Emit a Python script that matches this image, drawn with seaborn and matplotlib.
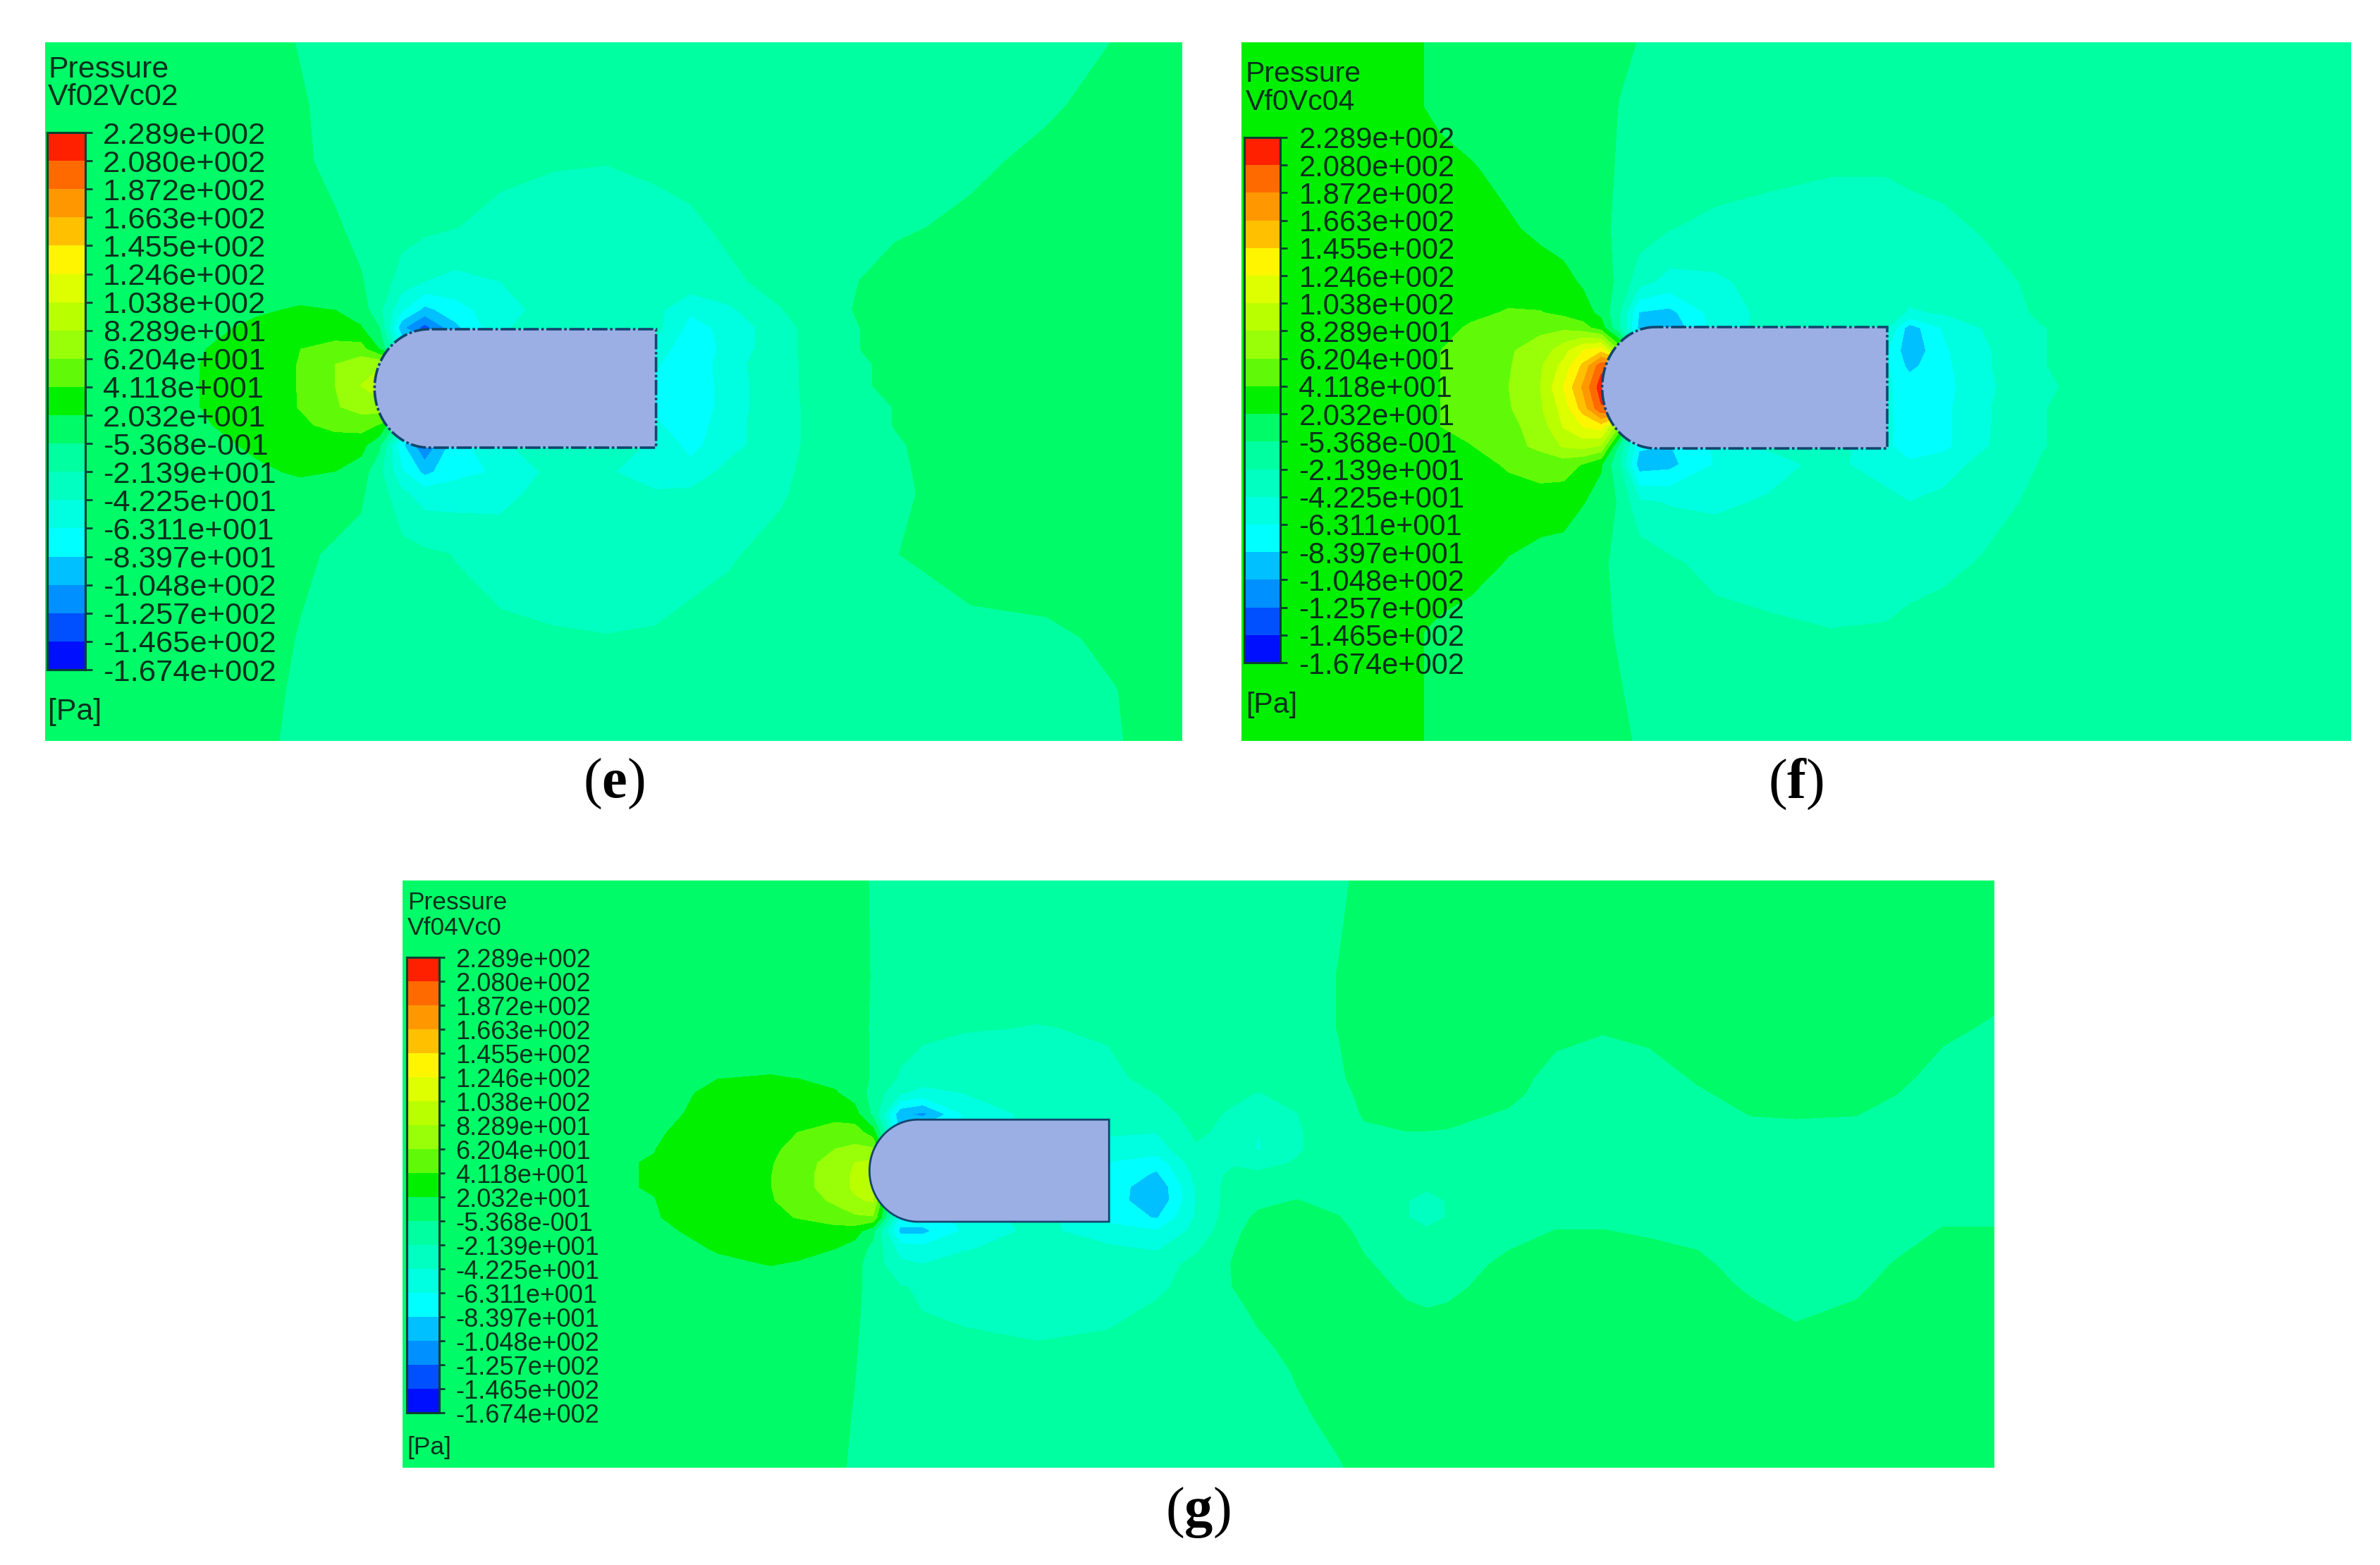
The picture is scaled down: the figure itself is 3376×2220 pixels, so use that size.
import numpy as np
import seaborn as sns
from matplotlib import pyplot as plt
from matplotlib.colors import BoundaryNorm, ListedColormap
from matplotlib.patches import Polygon

FIG_W, FIG_H = 3376, 2220

tick_labels = ['2.289e+002', '2.080e+002', '1.872e+002', '1.663e+002', '1.455e+002',
               '1.246e+002', '1.038e+002', '8.289e+001', '6.204e+001', '4.118e+001',
               '2.032e+001', '-5.368e-001', '-2.139e+001', '-4.225e+001', '-6.311e+001',
               '-8.397e+001', '-1.048e+002', '-1.257e+002', '-1.465e+002', '-1.674e+002']
levels_desc = [228.9, 208.0, 187.2, 166.3, 145.5, 124.6, 103.8, 82.89, 62.04, 41.18,
               20.32, -0.5368, -21.39, -42.25, -63.11, -83.97, -104.8, -125.7, -146.5, -167.4]
band_colors = ['#ff2000', '#ff6a00', '#ff9800', '#ffc000', '#fff500', '#ddff00', '#baff00',
               '#98ff08', '#60fa08', '#00f000', '#00fb68', '#00ffa0', '#00ffc0', '#00ffe0',
               '#00ffff', '#00c0ff', '#0090ff', '#0050ff', '#0010ff']

# pressure, rows top to bottom, columns left to right
x_e = [30, 100, 135, 170, 198, 221, 238, 250, 265, 280, 300, 330, 365, 400, 432, 455, 480, 515, 550, 590, 640, 690, 735, 779]
y_e = [28, 70, 107, 150, 185, 204, 216, 230, 240, 254, 268, 280, 293, 311, 325, 365, 420, 455, 488]
p_e = [
    [10, 10, 10, 10, -2, -10, -10, -10, -10, -10, -10, -10, -10, -10, -10, -10, -10, -10, -10, -10, -10, -8, 0, 10],
    [10, 10, 10, 10, 2, -8, -10, -10, -10, -10, -10, -10, -10, -10, -10, -10, -10, -10, -10, -10, -10, -3, 6, 10],
    [10, 10, 10, 10, 3, -6, -9, -11, -12, -13, -14, -16, -20, -21, -18, -15, -12, -10, -10, -10, -4, 4, 10, 10],
    [10, 10, 10, 10, 8, 2, -6, -11, -14, -17, -21, -28, -30, -30, -28, -25, -18, -11, -8, -3, 3, 10, 10, 10],
    [10, 10, 10, 10, 10, 8, 1, -10, -30, -42, -48, -42, -32, -30, -30, -28, -25, -15, -5, 6, 10, 10, 10, 10],
    [10, 10, 14, 18, 22, 20, 10, -15, -60, -90, -72, -50, -34, -30, -36, -60, -46, -22, -4, 8, 10, 10, 10, 10],
    [10, 10, 16, 24, 28, 30, 22, 0, -100, -135, -90, -45, -32, -30, -36, -70, -58, -28, -6, 7, 10, 10, 10, 10],
    [10, 12, 20, 30, 41, 48, 50, 20, -60, -70, -70, -40, -30, -30, -50, -80, -56, -28, -6, 7, 10, 10, 10, 10],
    [10, 13, 21, 32, 42, 62, 74, 80, 80, -70, -70, -40, -30, -30, -60, -82, -50, -28, -8, 4, 10, 10, 10, 10],
    [10, 14, 21, 32, 42, 62, 83, 95, 95, -70, -70, -40, -30, -30, -66, -82, -52, -28, -8, 4, 10, 10, 10, 10],
    [10, 13, 21, 31, 42, 60, 70, 75, 75, -70, -70, -40, -30, -30, -66, -82, -52, -28, -10, 0, 9, 10, 10, 10],
    [10, 12, 19, 28, 38, 46, 50, 40, -20, -70, -70, -40, -30, -30, -60, -76, -50, -28, -10, 0, 9, 10, 10, 10],
    [10, 11, 16, 23, 28, 32, 28, 5, -80, -125, -72, -45, -32, -30, -46, -70, -50, -28, -10, -2, 8, 10, 10, 10],
    [10, 10, 13, 18, 22, 20, 10, -15, -60, -90, -70, -60, -36, -38, -62, -55, -36, -26, -8, -3, 8, 10, 10, 10],
    [10, 10, 10, 13, 15, 10, 2, -10, -38, -52, -52, -50, -32, -30, -38, -38, -32, -24, -6, -3, 6, 10, 10, 10],
    [10, 10, 10, 10, 4, -4, -6, -8, -14, -18, -22, -28, -30, -30, -30, -28, -24, -14, -6, -1, 8, 10, 10, 10],
    [10, 10, 10, 10, -2, -8, -10, -10, -12, -14, -16, -18, -20, -21, -20, -16, -12, -10, -10, -8, -6, -4, 3, 10],
    [10, 10, 10, 6, -4, -10, -10, -10, -10, -10, -10, -10, -10, -10, -10, -10, -10, -10, -10, -10, -10, -8, -1, 10],
    [10, 10, 10, 5, -6, -10, -10, -10, -10, -10, -10, -10, -10, -10, -10, -10, -10, -10, -10, -10, -10, -8, -2, 10],
]

x_f = [818, 884, 929, 949, 969, 994, 1015, 1030, 1043, 1055, 1067, 1080, 1100, 1130, 1165, 1206, 1243, 1258, 1281, 1306, 1346, 1406, 1549]
y_f = [28, 71, 111, 151, 186, 206, 216, 231, 241, 255, 269, 281, 294, 306, 331, 371, 416, 451, 488]
p_f = [
    [30, 30, 24, 16, 10, 10, 10, 10, 8, 6, 2, -1, -6, -10, -10, -10, -10, -10, -10, -10, -10, -10, -10],
    [30, 30, 24, 16, 10, 10, 10, 10, 8, 4, -1, -5, -8, -10, -10, -10, -10, -10, -10, -10, -10, -10, -10],
    [30, 30, 30, 26, 22, 14, 10, 10, 7, 3, -2, -6, -10, -12, -16, -20, -20, -18, -15, -12, -10, -10, -10],
    [30, 30, 30, 30, 28, 23, 16, 12, 8, 2, -3, -10, -21, -27, -30, -30, -30, -28, -26, -20, -12, -10, -10],
    [30, 30, 30, 30, 30, 30, 30, 26, 18, 8, -5, -35, -50, -46, -35, -30, -30, -32, -32, -30, -16, -10, -10],
    [30, 30, 30, 30, 36, 43, 42, 36, 28, 15, -20, -85, -90, -55, -36, -30, -33, -45, -40, -33, -18, -10, -10],
    [30, 30, 30, 34, 44, 52, 58, 58, 50, 30, -20, -90, -100, -55, -35, -30, -40, -95, -60, -42, -22, -10, -10],
    [30, 30, 30, 41, 52, 60, 70, 95, 125, 140, 60, -50, -70, -50, -30, -30, -60, -100, -66, -46, -22, -10, -10],
    [30, 30, 30, 41, 52, 60, 80, 110, 150, 200, 205, -60, -70, -50, -30, -30, -60, -90, -68, -46, -22, -10, -10],
    [30, 30, 30, 41, 52, 62, 83, 125, 170, 220, 220, -60, -70, -50, -30, -30, -60, -72, -70, -48, -24, -10, -10],
    [30, 30, 30, 41, 52, 60, 80, 112, 155, 205, 205, -60, -70, -50, -30, -30, -60, -72, -68, -46, -22, -10, -10],
    [30, 30, 30, 41, 50, 56, 72, 105, 125, 135, 60, -55, -70, -50, -30, -30, -60, -70, -68, -46, -22, -10, -10],
    [30, 30, 30, 30, 40, 56, 66, 85, 90, 80, -10, -80, -85, -60, -40, -32, -60, -72, -68, -45, -22, -10, -10],
    [30, 30, 30, 30, 32, 44, 52, 50, 40, 22, -20, -95, -90, -62, -50, -36, -55, -60, -52, -36, -20, -10, -10],
    [30, 30, 30, 30, 30, 30, 30, 30, 21, 14, -4, -38, -44, -46, -40, -30, -34, -42, -36, -30, -16, -10, -10],
    [30, 30, 30, 30, 27, 19, 13, 10, 6, 1, -3, -8, -18, -28, -30, -30, -30, -28, -26, -20, -11, -10, -10],
    [30, 30, 23, 17, 13, 10, 10, 10, 6, 2, -2, -6, -10, -14, -18, -21, -20, -17, -13, -10, -10, -10, -10],
    [30, 30, 24, 16, 10, 10, 10, 10, 8, 4, 0, -4, -8, -10, -10, -10, -10, -10, -10, -10, -10, -10, -10],
    [30, 30, 24, 16, 10, 10, 10, 10, 8, 5, 2, -2, -6, -10, -10, -10, -10, -10, -10, -10, -10, -10, -10],
]

x_g = [265, 431, 473, 508, 525, 550, 563, 575, 593, 608, 635, 683, 730, 762, 788,
       813, 829, 854, 882, 899, 926, 940, 954, 994, 1025, 1056, 1087, 1119, 1153, 1183, 1223, 1249, 1280, 1314]
y_g = [580, 643, 677, 710, 720, 734, 746, 757, 766, 774, 782, 791, 802, 811, 823, 833, 848, 863, 887, 904, 933, 967]
p_g = [
    [10, 10, 10, 10, 10, 10, 7, -3, -8, -10, -10, -10, -10, -10, -10,
     -10, -10, -8, -3, 3, 10, 10, 10, 10, 10, 10, 10, 10, 10, 10, 10, 10, 10, 10],
    [10, 10, 10, 10, 10, 10, 7, -2, -8, -10, -10, -14, -12, -10, -10,
     -10, -10, -8, 0, 5, 10, 10, 10, 10, 10, 10, 10, 10, 10, 10, 10, 10, 10, 10],
    [10, 10, 10, 10, 10, 10, 7, -3, -12, -16, -20, -22, -20, -14, -11,
     -10, -10, -8, 0, 6, 10, 10, 10, 10, 7, 1, 6, 10, 10, 10, 10, 10, 5, -4],
    [10, 12, 20, 21, 20, 15, 9, -3, -24, -32, -34, -30, -24, -18, -12,
     -10, -10, -9, -3, 6, 10, 10, 10, 9, -9, -10, -10, 2, 10, 10, 10, 6, -10, -10],
    [10, 14, 24, 28, 27, 22, 12, -8, -40, -50, -42, -32, -30, -21, -13,
     -18, -22, -16, -6, 4, 8, 9, 10, 5, -10, -10, -10, -3, 7, 8, 7, 0, -10, -10],
    [12, 14, 28, 30, 33, 34, 28, -5, -100, -110, -62, -34, -34, -28, -16,
     -24, -32, -22, -8, 1, 5, 5, 5, -3, -10, -10, -10, -10, 0, 1, 0, -6, -10, -10],
    [10, 18, 30, 36, 41, 50, 52, 30, -90, -70, -60, -30, -40, -42, -18,
     -28, -42, -24, -9, -3, -1, -1, -2, -8, -10, -10, -10, -10, -6, -5, -6, -10, -10, -10],
    [10, 20, 32, 38, 46, 62, 66, 65, -70, -70, -60, -30, -50, -52, -24,
     -28, -44, -24, -10, -10, -10, -10, -10, -10, -10, -10, -10, -10, -10, -10, -10, -10, -10, -10],
    [10, 21, 33, 40, 50, 72, 83, 88, -70, -70, -60, -30, -64, -76, -30,
     -24, -28, -20, -10, -10, -10, -10, -10, -10, -10, -10, -10, -10, -10, -10, -10, -10, -10, -10],
    [10, 21, 33, 41, 52, 74, 86, 92, -70, -70, -60, -30, -66, -88, -36,
     -16, -18, -14, -10, -10, -10, -10, -10, -10, -10, -10, -10, -10, -10, -10, -10, -10, -10, -10],
    [10, 21, 33, 41, 52, 74, 86, 92, -70, -70, -60, -30, -68, -103, -40,
     -11, -12, -8, -9, -10, -12, -18, -12, -10, -10, -10, -10, -10, -10, -10, -10, -10, -10, -10],
    [10, 20, 32, 40, 48, 66, 80, 85, -70, -70, -60, -30, -70, -103, -42,
     -10, -5, 0, -5, -10, -20, -30, -20, -10, -10, -10, -10, -10, -10, -10, -10, -10, -10, -10],
    [10, 19, 31, 36, 42, 50, 58, 60, -70, -70, -60, -30, -70, -86, -40,
     -8, 3, 5, 0, -9, -20, -30, -20, -10, -5, -5, -8, -10, -10, -10, -10, -10, -4, -4],
    [10, 16, 27, 32, 30, 34, 30, 5, -90, -90, -60, -36, -54, -62, -36,
     -4, 6, 9, 5, -6, -13, -18, -13, -8, 0, 0, -3, -8, -10, -10, -10, -10, 1, 1],
    [10, 10, 22, 28, 28, 20, 10, -6, -50, -55, -44, -32, -38, -44, -24,
     -1, 10, 10, 10, -2, -10, -10, -10, -1, 6, 6, 3, -1, -10, -10, -10, -4, 7, 7],
    [10, 10, 16, 21, 18, 14, 6, -10, -38, -42, -32, -30, -32, -30, -16,
     1, 10, 10, 10, 2, -10, -10, -10, 4, 10, 10, 8, 4, -10, -10, -10, 1, 10, 10],
    [10, 10, 10, 10, 10, 10, 4, -8, -20, -24, -30, -30, -30, -26, -12,
     0, 10, 10, 10, 10, -5, -8, -6, 10, 10, 10, 10, 10, -4, -10, -5, 8, 10, 10],
    [10, 10, 10, 10, 10, 10, 3, -8, -15, -22, -28, -30, -28, -18, -11,
     -6, 4, 10, 10, 10, 3, 0, 2, 10, 10, 10, 10, 10, 4, -5, 3, 10, 10, 10],
    [10, 10, 10, 10, 10, 9, 1, -8, -10, -12, -14, -20, -16, -12, -10,
     -10, -5, 6, 10, 10, 10, 10, 10, 10, 10, 10, 10, 10, 10, 8, 10, 10, 10, 10],
    [10, 10, 10, 10, 10, 8, 0, -9, -10, -10, -10, -10, -10, -10, -10,
     -10, -10, 1, 10, 10, 10, 10, 10, 10, 10, 10, 10, 10, 10, 10, 10, 10, 10, 10],
    [10, 10, 10, 10, 10, 6, -2, -10, -10, -10, -10, -10, -10, -10, -10,
     -10, -10, -4, 5, 10, 10, 10, 10, 10, 10, 10, 10, 10, 10, 10, 10, 10, 10, 10],
    [10, 10, 10, 10, 10, 4, -4, -10, -10, -10, -10, -10, -10, -10, -10,
     -10, -10, -10, -2, 5, 10, 10, 10, 10, 10, 10, 10, 10, 10, 10, 10, 10, 10, 10],
]

sns.set_theme(style='white')
plt.rcParams['font.family'] = ['Liberation Sans', 'DejaVu Sans']
plt.rcParams['mathtext.fontset'] = 'custom'
plt.rcParams['mathtext.bf'] = 'Liberation Serif:bold'
plt.rcParams['mathtext.rm'] = 'Liberation Serif'

TEXT_COLOR = '#06301c'
levels = levels_desc[::-1]
colors_asc = band_colors[::-1]


def px_axes(fig, left, top, right, bottom):
    return fig.add_axes([left / FIG_W, 1 - bottom / FIG_H, (right - left) / FIG_W, (bottom - top) / FIG_H])


def px_text(fig, x, y, s, **kw):
    fig.text(x / FIG_W, 1 - y / FIG_H, s, va='center', **kw)


def draw_field(fig, rect, xs, ys, pressure, body, solid_edge=False):
    ax = px_axes(fig, *rect)
    ax.contourf(xs, ys, np.array(pressure, dtype=float), levels=levels, colors=colors_asc)
    ax.set_xlim(xs[0], xs[-1])
    ax.set_ylim(ys[-1], ys[0])
    ax.axis('off')

    tip, nose_end, right, top, bottom = body
    t = np.linspace(-np.pi / 2, np.pi / 2, 60)
    mid, half = (top + bottom) / 2, (bottom - top) / 2
    nose = np.column_stack([nose_end - (nose_end - tip) * np.cos(t), mid + half * np.sin(t)])
    outline = np.vstack([nose, [[right, bottom], [right, top]]])
    ax.add_patch(Polygon(outline, closed=True, facecolor='#9bafe5', edgecolor='#14466e',
                         linewidth=2.0 if solid_edge else 2.6,
                         linestyle='-' if solid_edge else (0, (6, 1, 1, 1))))
    return ax


def draw_legend(fig, bar, font, tick_len, pad, title_x, title_y, name, name_y, unit_y):
    ax = px_axes(fig, *bar)
    mids = (np.array(levels_desc[:-1]) + np.array(levels_desc[1:])) / 2
    sns.heatmap(mids.reshape(-1, 1), ax=ax, cmap=ListedColormap(colors_asc), norm=BoundaryNorm(levels, 19),
                cbar=False, xticklabels=False, yticklabels=False)
    ax.set_yticks(np.arange(20))
    ax.set_yticklabels(tick_labels, rotation=0, fontsize=font, color=TEXT_COLOR)
    ax.yaxis.tick_right()
    ax.tick_params(axis='y', length=tick_len, width=2, color='#0a4030', pad=pad)
    for spine in ax.spines.values():
        spine.set_visible(True)
        spine.set_color('#0a4030')
        spine.set_linewidth(2.2)
    px_text(fig, title_x, title_y, 'Pressure', fontsize=font - 0.5, color=TEXT_COLOR)
    px_text(fig, title_x, name_y, name, fontsize=font - 0.5, color=TEXT_COLOR)
    px_text(fig, title_x, unit_y, '[Pa]', fontsize=font - 0.5, color=TEXT_COLOR)


fig = plt.figure(figsize=(FIG_W / 100, FIG_H / 100), dpi=100, facecolor='white')

draw_field(fig, (64, 60, 1677, 1051), x_e, y_e, p_e, (247, 283, 432.4, 216.9, 294.9))
draw_legend(fig, (67, 188, 121, 950), 31.3, 7, 11, 68, 99, 'Vf02Vc02', 138, 1010)

draw_field(fig, (1761, 60, 3335, 1051), x_f, y_f, p_f, (1055.6, 1090.6, 1243.4, 215.5, 295.4))
draw_legend(fig, (1765, 195, 1816, 940), 30, 7, 12, 1767, 105, 'Vf0Vc04', 145, 1000)

draw_field(fig, (571, 1249, 2829, 2082), x_g, y_g, p_g, (572.7, 604.7, 730.6, 737.6, 804.9), solid_edge=True)
draw_legend(fig, (577, 1358, 623, 2004), 26, 6, 11, 578, 1281, 'Vf04Vc0', 1316, 2054)

for label, x, y in [('e', 871, 1112), ('f', 2547, 1112), ('g', 1699, 2146)]:
    px_text(fig, x, y, r'($\mathbf{%s}$)' % label, fontsize=58, ha='center', color='black',
            family=['Liberation Serif', 'DejaVu Serif'])

fig.savefig('out.png', dpi=100, facecolor='white')
